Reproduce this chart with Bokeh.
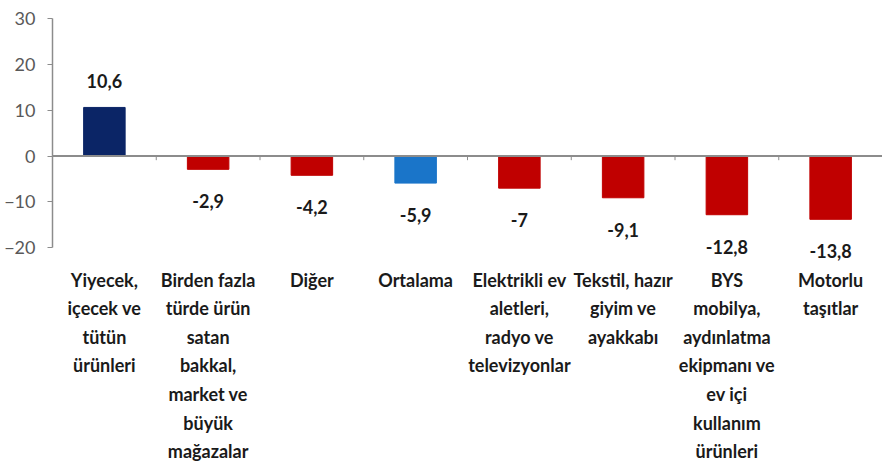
from bokeh.plotting import figure
from bokeh.models import Span, Range1d, FixedTicker, ColumnDataSource
from bokeh.embed import file_html
from bokeh.resources import INLINE
from bokeh.core.properties import value

categories = [
    "Yiyecek,\niçecek ve\ntütün\nürünleri",
    "Birden fazla\ntürde ürün\nsatan\nbakkal,\nmarket ve\nbüyük\nmağazalar",
    "Diğer",
    "Ortalama",
    "Elektrikli ev\naletleri,\nradyo ve\ntelevizyonlar",
    "Tekstil, hazır\ngiyim ve\nayakkabı",
    "BYS\nmobilya,\naydınlatma\nekipmanı ve\nev içi\nkullanım\nürünleri",
    "Motorlu\ntaşıtlar",
]
values = [10.6, -2.9, -4.2, -5.9, -7.0, -9.1, -12.8, -13.8]
y_ticks = [-20, -10, 0, 10, 20, 30]

NAVY = "#0b2566"
RED = "#c00000"
BLUE = "#1a75c9"

def fmt(v):
    return ("%g" % v).replace(".", ",")

n = len(categories)
centers = [i + 0.5 for i in range(n)]
colors = [NAVY if v > 0 else (BLUE if c == "Ortalama" else RED) for c, v in zip(categories, values)]
labels = [fmt(v) for v in values]
pos_src = ColumnDataSource(dict(x=[x for x, v in zip(centers, values) if v > 0],
                                y=[v for v in values if v > 0],
                                t=[l for l, v in zip(labels, values) if v > 0]))
neg_src = ColumnDataSource(dict(x=[x for x, v in zip(centers, values) if v <= 0],
                                y=[v for v in values if v <= 0],
                                t=[l for l, v in zip(labels, values) if v <= 0]))

FONT = "Lato"

p = figure(x_range=Range1d(0, n), y_range=Range1d(-23, 30),
           width=882, height=473, output_backend="svg", toolbar_location=None,
           min_border_left=52, min_border_right=0, min_border_top=18, min_border_bottom=212)
p.outline_line_color = None
p.xgrid.grid_line_color = None
p.ygrid.grid_line_color = None
p.background_fill_color = "white"

p.vbar(x=centers, top=values, bottom=0, width=0.4, fill_color=colors, line_color=colors)

p.add_layout(Span(location=0, dimension="width", line_color="#8c8c8c", line_width=2))

bounds = list(range(1, n))
p.segment(x0=bounds, x1=bounds, y0=[0] * len(bounds), y1=[-0.9] * len(bounds),
          line_color="#8c8c8c", line_width=1)

p.text(x="x", y="y", text="t", source=pos_src, y_offset=-19,
       text_align="center", text_baseline="bottom", text_font=value(FONT),
       text_font_style="bold", text_font_size="18px", text_color="#1a1a1a")
p.text(x="x", y="y", text="t", source=neg_src, y_offset=25,
       text_align="center", text_baseline="top", text_font=value(FONT),
       text_font_style="bold", text_font_size="18px", text_color="#1a1a1a")

ya = p.yaxis[0]
ya.ticker = FixedTicker(ticks=y_ticks)
ya.bounds = (-20, 30)
ya.axis_line_color = "#8c8c8c"
ya.axis_line_width = 1.5
ya.major_tick_line_color = "#8c8c8c"
ya.major_tick_out = 5
ya.major_tick_in = 0
ya.minor_tick_line_color = None
ya.major_label_text_font = FONT
ya.major_label_text_font_size = "18px"
ya.major_label_text_color = "#595959"
ya.major_label_standoff = 12

xa = p.xaxis[0]
xa.ticker = FixedTicker(ticks=centers)
xa.major_label_overrides = {c: lab for c, lab in zip(centers, categories)}
xa.axis_line_color = None
xa.major_tick_line_color = None
xa.minor_tick_line_color = None
xa.major_label_text_font = FONT
xa.major_label_text_font_style = "bold"
xa.major_label_text_font_size = "18px"
xa.major_label_text_color = "#1a1a1a"
xa.major_label_text_line_height = 1.3
xa.major_label_standoff = 1

open("out.html", "w").write(file_html(p, INLINE))
